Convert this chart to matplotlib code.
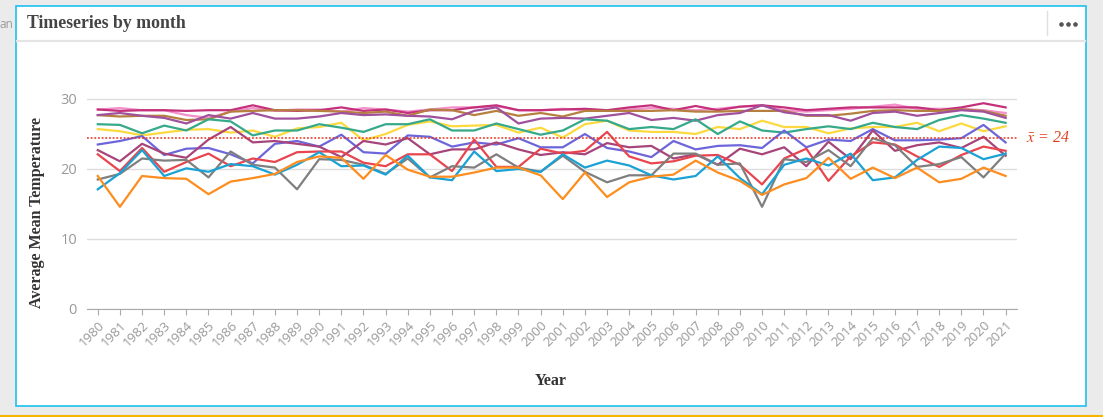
import numpy as np
import matplotlib.pyplot as plt
from matplotlib.patches import Rectangle
from matplotlib.lines import Line2D
import matplotlib.transforms as mtransforms

plt.rcParams['mathtext.fontset'] = 'stix'

years = list(range(1980, 2022))

# one line per month (named by line colour)
orange = [19.0, 14.6, 19.0, 18.7, 18.6, 16.4, 18.2, 18.7, 19.3, 21.0, 21.8, 21.6, 18.6, 22.0,
          19.9, 18.9, 18.9, 19.5, 20.2, 20.2, 19.1, 15.7, 19.5, 16.0, 18.1, 18.9, 19.2, 21.2,
          19.5, 18.3, 16.3, 17.8, 18.7, 21.6, 18.6, 20.2, 18.7, 20.2, 18.1, 18.6, 20.2, 19.0]
cyan = [17.1, 19.4, 22.7, 19.0, 20.1, 19.6, 20.7, 20.4, 19.2, 20.6, 22.4, 20.4, 20.5, 19.2,
        21.9, 18.8, 18.4, 22.5, 19.7, 20.0, 19.6, 22.1, 20.2, 21.2, 20.5, 19.1, 18.5, 19.0,
        21.8, 18.7, 16.4, 20.6, 21.5, 20.5, 22.2, 18.4, 18.8, 21.3, 23.2, 23.0, 21.4, 22.2]
gray = [18.5, 19.3, 21.5, 21.2, 21.3, 18.8, 22.5, 20.6, 20.2, 17.1, 21.4, 21.3, 20.6, 19.3,
        21.5, 18.8, 20.4, 20.2, 22.1, 20.2, 19.6, 21.9, 19.6, 18.1, 19.1, 19.1, 22.2, 22.2,
        20.6, 20.8, 14.6, 21.4, 21.0, 22.7, 20.4, 24.4, 23.4, 20.3, 20.7, 21.7, 18.8, 22.2]
red = [22.1, 19.7, 23.0, 19.6, 21.0, 22.2, 20.4, 21.5, 21.0, 22.4, 22.5, 22.5, 20.9, 20.4,
       22.1, 22.1, 19.7, 24.2, 20.3, 20.3, 22.9, 22.2, 22.6, 25.3, 21.8, 20.8, 21.1, 21.9,
       22.0, 20.6, 17.8, 21.5, 22.9, 18.3, 21.8, 23.8, 23.5, 21.8, 20.3, 22.0, 23.2, 22.6]
violet = [23.5, 24.0, 24.7, 22.0, 22.9, 23.0, 22.1, 20.8, 23.6, 24.0, 23.2, 24.9, 22.4, 22.2,
          24.8, 24.6, 23.2, 23.8, 23.5, 24.4, 23.1, 23.1, 25.0, 23.0, 22.5, 21.7, 24.0, 22.8,
          23.3, 23.4, 23.0, 25.5, 23.1, 24.2, 24.0, 25.7, 24.1, 24.1, 24.2, 24.4, 26.3, 23.8]
raspberry = [22.7, 21.1, 23.6, 22.2, 21.6, 24.2, 26.0, 23.8, 24.0, 23.6, 23.2, 21.7, 24.0, 23.5,
             24.4, 22.1, 22.8, 22.8, 23.8, 22.8, 22.0, 22.4, 22.1, 23.7, 23.1, 23.3, 21.5, 22.1,
             20.6, 22.9, 22.1, 23.1, 20.4, 23.9, 21.4, 25.5, 22.6, 23.4, 23.8, 23.0, 24.6, 21.9]
teal = [26.4, 26.3, 25.1, 26.2, 25.5, 27.1, 26.8, 24.8, 25.5, 25.5, 26.4, 25.9, 25.3, 26.4,
        26.4, 27.1, 25.5, 25.5, 26.5, 25.7, 24.9, 25.5, 27.1, 26.9, 25.7, 26.0, 25.7, 27.1,
        25.0, 26.8, 25.5, 25.2, 25.7, 26.1, 25.7, 26.6, 26.0, 25.7, 27.0, 27.7, 27.2, 26.6]
yellow = [25.7, 25.4, 24.8, 25.2, 25.6, 25.7, 25.2, 25.5, 24.6, 25.8, 26.0, 26.6, 24.1, 25.0,
          26.3, 26.8, 26.1, 26.2, 26.3, 25.2, 25.9, 24.5, 26.4, 26.9, 25.5, 25.3, 25.3, 25.0,
          26.0, 25.7, 26.9, 26.0, 26.0, 25.1, 25.8, 26.0, 26.0, 26.6, 25.4, 26.5, 25.4, 26.1]
purple = [27.7, 28.0, 27.6, 27.3, 26.5, 27.7, 27.2, 28.0, 27.2, 27.2, 27.5, 28.0, 27.7, 27.8,
          27.6, 27.5, 27.1, 28.3, 28.8, 26.5, 27.2, 27.3, 27.2, 27.6, 28.0, 27.0, 27.3, 26.9,
          27.7, 28.0, 29.1, 28.1, 27.7, 27.7, 26.9, 28.0, 28.2, 27.6, 28.0, 28.4, 28.2, 27.3]
brown = [27.7, 27.5, 27.6, 27.6, 27.0, 27.1, 28.2, 28.3, 28.4, 28.4, 28.3, 28.2, 28.0, 28.2,
         27.6, 28.5, 28.4, 27.7, 28.3, 27.6, 28.0, 27.5, 28.3, 28.3, 28.3, 28.3, 28.4, 28.2,
         28.2, 28.3, 28.3, 28.3, 27.6, 27.6, 27.9, 28.3, 28.4, 28.3, 28.3, 28.5, 28.3, 27.6]
pink = [28.5, 28.7, 28.4, 28.4, 27.7, 27.3, 28.2, 28.7, 28.3, 28.5, 28.5, 28.2, 28.7, 28.5,
        28.2, 28.5, 28.8, 28.8, 29.0, 28.4, 28.4, 28.6, 28.4, 28.3, 28.5, 28.7, 28.6, 28.4,
        28.6, 28.9, 29.1, 28.4, 28.2, 28.4, 28.6, 28.9, 29.2, 28.6, 28.6, 28.6, 28.4, 28.0]
crimson = [28.5, 28.3, 28.4, 28.4, 28.3, 28.4, 28.4, 29.1, 28.4, 28.3, 28.4, 28.8, 28.3, 28.5,
           28.0, 28.4, 28.4, 28.8, 29.1, 28.4, 28.4, 28.5, 28.6, 28.4, 28.8, 29.1, 28.4, 29.0,
           28.4, 28.9, 29.1, 28.8, 28.4, 28.6, 28.8, 28.8, 28.8, 28.8, 28.4, 28.8, 29.4, 28.8]

series = [
    (pink, '#F38FCB'), (crimson, '#C4317A'), (brown, '#B5803F'), (purple, '#A0509C'),
    (yellow, '#FCD93F'), (teal, '#35A98A'), (violet, '#6D66DA'), (raspberry, '#A7447A'),
    (red, '#E8454F'), (gray, '#7F7F7F'), (cyan, '#1AA2D5'), (orange, '#FD8D1E'),
]

W, H = 1103, 417
fig = plt.figure(figsize=(W / 100, H / 100), dpi=100)
fig.patch.set_facecolor('#EBEBEB')

# ---- card / header decorations (figure pixel coords, y from top) ----
def fx(x): return x / W
def fy(y): return 1 - y / H

fig.add_artist(Rectangle((fx(15.5), fy(406.3)), fx(1086.3) - fx(15.5), fy(5.7) - fy(406.3),
                         transform=fig.transFigure, facecolor='white', edgecolor='#1EC0F0',
                         lw=1.2, zorder=0))
fig.add_artist(Line2D([fx(17), fx(1085)], [fy(40.5), fy(40.5)], transform=fig.transFigure,
                      color='#E4E4E4', lw=1.6))
fig.add_artist(Line2D([fx(1047), fx(1047)], [fy(11), fy(35)], transform=fig.transFigure,
                      color='#E0E0E0', lw=1))
fig.add_artist(Line2D([fx(1061), fx(1068), fx(1075)], [fy(24)] * 3, transform=fig.transFigure,
                      ls='none', marker='o', ms=2.3, color='#555555'))
fig.add_artist(Line2D([0, 1], [fy(416), fy(416)], transform=fig.transFigure,
                      color='#F7B500', lw=1.5))

fig.text(0, fy(24), 'an', ha='left', va='center', fontsize=8.5, color='#9A9A9A',
         family='Open Sans')
fig.text(fx(27), fy(24), 'Timeseries by month', ha='left', va='center', fontsize=12.8,
         fontweight='bold', family='Liberation Serif', color='#444444')

# ---- chart ----
ax = fig.add_axes([fx(86.7), fy(309), fx(1016.7) - fx(86.7), (309 - 71) / H])
ax.set_facecolor('none')

for vals, col in series:
    ax.plot(years, vals, color=col, lw=1.6, zorder=3)

all_vals = np.concatenate([np.array(v) for v, _ in series])
mean_val = all_vals.mean()
ax.axhline(mean_val, color='#E8321E', ls=(0, (1.2, 1.2)), lw=1.1, zorder=4)
trans = mtransforms.blended_transform_factory(ax.transAxes, ax.transData)
ax.text(1.010, mean_val, r'$\bar{x}$' + f' = {mean_val:.0f}', transform=trans, ha='left',
        va='center', fontsize=11.5, style='italic', family='Liberation Serif', color='#E0401F')

ax.set_xlim(1979.5, 2021.5)
ax.set_ylim(0, 34)
ax.set_yticks([0, 10, 20, 30])
ax.set_xticks(years)
ax.set_xticklabels([str(y) for y in years], rotation=45, ha='right',
                   rotation_mode='anchor', fontsize=9.5, color='#999999', family='Open Sans')
ax.tick_params(axis='x', length=4, color='#AAAAAA', pad=3)
ax.tick_params(axis='y', length=0, pad=7, labelsize=10.5, labelcolor='#999999')
for lbl in ax.get_yticklabels():
    lbl.set_family('Open Sans')
ax.grid(axis='y', color='#DDDDDD', lw=1)
ax.set_axisbelow(True)
for s in ['top', 'right', 'left']:
    ax.spines[s].set_visible(False)
ax.spines['bottom'].set_color('#AAAAAA')

fig.text(fx(37), fy(212), 'Average Mean Temperature', rotation=90, ha='center', va='center',
         fontsize=11.5, fontweight='bold', family='Liberation Serif', color='#333333')
fig.text(fx(551), fy(381), 'Year', ha='center', va='center', fontsize=11.5,
         fontweight='bold', family='Liberation Serif', color='#333333')

fig.savefig('out.png', dpi=100, facecolor=fig.get_facecolor())
